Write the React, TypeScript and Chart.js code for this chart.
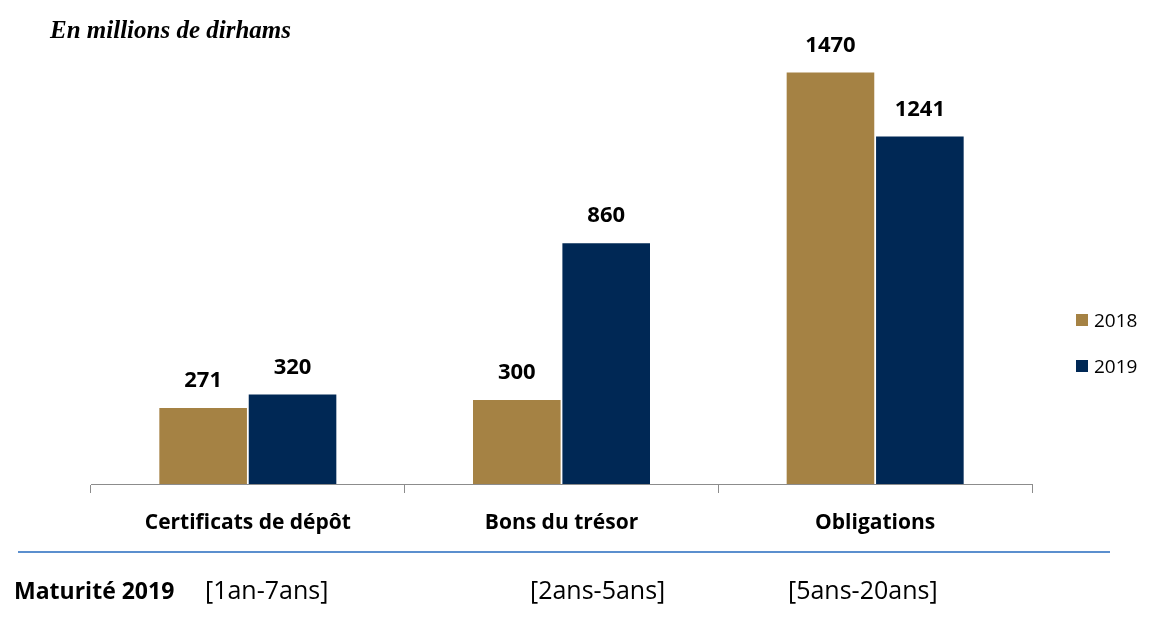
import React, { useEffect, useRef } from "react";
import { Chart, registerables } from "chart.js";

Chart.register(...registerables);

const categories = ["Certificats de dépôt", "Bons du trésor", "Obligations"];
const values2018 = [271, 300, 1470];
const values2019 = [320, 860, 1241];
const seriesLabels = ["2018", "2019"];
const seriesColors = ["#A58244", "#002855"];
const maturities = ["[1an-7ans]", "[2ans-5ans]", "[5ans-20ans]"];
const maturityLeft = [205, 530, 788];
const yMax = 1600;

const FONT = "'Open Sans', 'Noto Sans', sans-serif";

const labelPlugin = {
  id: "customLabels",
  afterDatasetsDraw(chart: any) {
    const ctx = chart.ctx;
    ctx.save();
    ctx.fillStyle = "#000";
    ctx.textAlign = "center";
    ctx.textBaseline = "middle";
    ctx.font = `bold 22px ${FONT}`;
    chart.data.datasets.forEach((ds: any, di: number) => {
      const meta = chart.getDatasetMeta(di);
      meta.data.forEach((bar: any, i: number) => {
        ctx.fillText(String(ds.data[i]), bar.x, bar.y - 27);
      });
    });
    const xs = chart.scales.x;
    ctx.font = `bold 21px ${FONT}`;
    categories.forEach((c, i) => {
      ctx.fillText(c, xs.getPixelForValue(i), chart.chartArea.bottom + 39);
    });
    ctx.restore();
  },
};

export default function App() {
  const ref = useRef<HTMLCanvasElement>(null);
  useEffect(() => {
    if (!ref.current) return;
    const chart = new Chart(ref.current, {
      type: "bar",
      data: {
        labels: categories,
        datasets: [
          {
            label: seriesLabels[0],
            data: values2018,
            backgroundColor: seriesColors[0],
            barPercentage: 0.98,
            categoryPercentage: 0.57,
          },
          {
            label: seriesLabels[1],
            data: values2019,
            backgroundColor: seriesColors[1],
            barPercentage: 0.98,
            categoryPercentage: 0.57,
          },
        ],
      },
      options: {
        animation: false,
        responsive: false,
        maintainAspectRatio: false,
        layout: { padding: { left: 91, right: 120, top: 36, bottom: 0 } },
        plugins: { legend: { display: false }, tooltip: { enabled: false } },
        scales: {
          x: {
            offset: true,
            grid: {
              offset: true,
              drawOnChartArea: false,
              drawTicks: true,
              tickLength: 9,
              color: "#8c8c8c",
            },
            border: { display: true, color: "#8c8c8c", width: 1 },
            ticks: { display: false },
            afterFit: (s: any) => {
              s.height = 133;
            },
          },
          y: {
            display: false,
            min: 0,
            max: yMax,
          },
        },
      },
      plugins: [labelPlugin],
    });
    return () => chart.destroy();
  }, []);

  return (
    <div
      style={{
        position: "absolute",
        left: 0,
        top: 0,
        width: 1152,
        height: 617,
        background: "#fff",
        overflow: "hidden",
      }}
    >
      <canvas ref={ref} width={1152} height={617} style={{ position: "absolute", left: 0, top: 0 }} />
      <div
        style={{
          position: "absolute",
          left: 50,
          top: 15,
          font: "italic bold 25px 'Liberation Serif', serif",
          lineHeight: "29px",
          color: "#000",
          whiteSpace: "nowrap",
        }}
      >
        En millions de dirhams
      </div>
      {seriesLabels.map((l, i) => (
        <div
          key={l}
          style={{
            position: "absolute",
            left: 1076,
            top: 307 + i * 46,
            display: "flex",
            alignItems: "center",
            font: `19px ${FONT}`,
            color: "#000",
          }}
        >
          <span
            style={{
              display: "inline-block",
              width: 12,
              height: 12,
              background: seriesColors[i],
              marginRight: 6,
            }}
          />
          {l}
        </div>
      ))}
      <div
        style={{
          position: "absolute",
          left: 18,
          top: 551,
          width: 1092,
          height: 2,
          background: "#5B8FCE",
        }}
      />
      <div
        style={{
          position: "absolute",
          left: 14,
          top: 574,
          font: `bold 23px ${FONT}`,
          lineHeight: "32px",
          color: "#000",
          whiteSpace: "nowrap",
        }}
      >
        Maturité 2019
      </div>
      {maturities.map((m, i) => (
        <div
          key={m}
          style={{
            position: "absolute",
            left: maturityLeft[i],
            top: 573,
            font: `25px ${FONT}`,
            lineHeight: "32px",
            color: "#000",
            whiteSpace: "nowrap",
          }}
        >
          {m}
        </div>
      ))}
    </div>
  );
}
